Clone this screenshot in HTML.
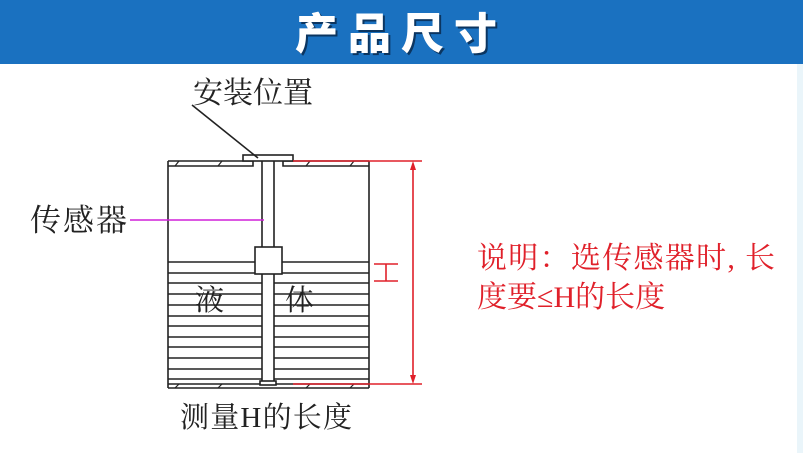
<!DOCTYPE html>
<html><head><meta charset="utf-8"><style>
body{margin:0;width:803px;height:453px;overflow:hidden;background:#fff}
</style></head><body>
<svg width="803" height="453" xmlns="http://www.w3.org/2000/svg" style="display:block">
<rect x="0" y="0" width="803" height="64" fill="#1a71c0"/>
<rect x="797" y="64" width="6" height="389" fill="#eaf5fa"/>
<text x="403" y="51" text-anchor="middle" font-family="Noto Sans CJK SC, sans-serif" font-weight="900" font-size="43" letter-spacing="10" fill="#0b3560">产品尺寸</text>
<text x="401" y="49" text-anchor="middle" font-family="Noto Sans CJK SC, sans-serif" font-weight="900" font-size="43" letter-spacing="10" fill="#fff">产品尺寸</text>
<g font-family="Liberation Serif, Noto Serif CJK SC, serif" fill="#222">
<text x="193" y="103" font-size="30">安装位置</text>
<text x="30" y="231" font-size="31" textLength="97">传感器</text>
<text x="180" y="427" font-size="29" textLength="172">测量H的长度</text>
<text x="195" y="310" font-size="29">液</text>
<text x="285" y="310" font-size="29">体</text>
</g>
<g font-family="Liberation Serif, Noto Serif CJK SC, serif" fill="#e0202a" font-size="30">
<text x="477" y="268" textLength="298">说明：选传感器时, 长</text>
<text x="477" y="307">度要≤H的长度</text>
</g>
<g stroke="#222" stroke-width="1.6" fill="none">
<line x1="168" y1="161" x2="168" y2="388"/>
<line x1="369" y1="161" x2="369" y2="388"/>
<polyline points="168,161 253,161 253,166 168,166"/>
<polyline points="369,161 283,161 283,166 369,166"/>
<rect x="243" y="155" width="50" height="6" fill="#fff"/>
<line x1="262" y1="161" x2="262" y2="383"/>
<line x1="274" y1="161" x2="274" y2="383"/>
<line x1="168" y1="384" x2="369" y2="384"/>
<line x1="168" y1="388" x2="369" y2="388"/>
<rect x="260" y="381" width="16" height="4" fill="#fff"/>
<line x1="192" y1="105" x2="258" y2="158"/>
<g stroke-width="1.2">
<line x1="175" y1="166" x2="179" y2="161"/><line x1="218" y1="166" x2="222" y2="161"/>
<line x1="306" y1="166" x2="310" y2="161"/><line x1="350" y1="166" x2="354" y2="161"/>
<line x1="175" y1="388" x2="179" y2="384"/><line x1="218" y1="388" x2="222" y2="384"/>
<line x1="306" y1="388" x2="310" y2="384"/><line x1="350" y1="388" x2="354" y2="384"/>
</g>
<g stroke-width="1.4">
<path d="M168 262H262M274 262H369M168 273H262M274 273H369M168 283H262M274 283H369M168 294H262M274 294H369M168 305H262M274 305H369M168 316H262M274 316H369M168 326H262M274 326H369M168 337H262M274 337H369M168 347H262M274 347H369M168 358H262M274 358H369M168 369H262M274 369H369M168 379H262M274 379H369"/>
</g>
<rect x="255" y="247" width="27" height="27" fill="#fff"/>
</g>
<line x1="130" y1="220" x2="264" y2="220" stroke="#d020d8" stroke-width="1.5"/>
<g stroke="#e0202a" stroke-width="1.6" fill="#e0202a">
<line x1="293" y1="161" x2="422" y2="161"/>
<line x1="293" y1="384" x2="422" y2="384"/>
<line x1="413" y1="165" x2="413" y2="380"/>
<path d="M413 161l-3 9h6z M413 384l-3 -9h6z" stroke="none"/>
<line x1="374" y1="264" x2="398" y2="264"/>
<line x1="374" y1="281" x2="398" y2="281"/>
<line x1="386" y1="264" x2="386" y2="281"/>
</g>
</svg>
</body></html>
